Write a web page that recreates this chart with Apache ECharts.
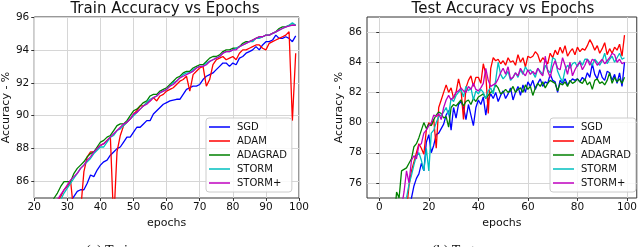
<!DOCTYPE html>
<html>
<head>
<meta charset="utf-8">
<script src="https://cdn.jsdelivr.net/npm/echarts@6/dist/echarts.min.js"></script>
<style>
html,body{margin:0;padding:0;background:#fff;}
#chart{width:640px;height:247px;}
</style>
</head>
<body>
<div id="chart"></div>
<script>
// ---------- DATA ----------
var seriesNames = ['SGD', 'ADAM', 'ADAGRAD', 'STORM', 'STORM+'];
var seriesColors = ['#0000ff', '#ff0000', '#008000', '#00bfbf', '#bf00bf'];

// Train accuracy, epochs 20..99
var trainFirstEpoch = 20;
var trainSGD = [81.5,81.9,82.3,82.6,83.0,83.3,83.6,83.9,84.2,84.4,84.6,84.8,85.1,85.4,85.5,85.5,85.9,86.4,86.3,86.7,
  87.0,87.2,87.3,87.6,87.8,88.0,88.1,88.4,88.7,88.7,89.0,89.3,89.3,89.5,89.7,89.7,90.1,90.3,90.5,90.7,
  90.8,90.9,90.95,91.0,91.0,91.3,91.6,91.7,91.8,91.8,91.9,92.2,92.4,92.5,92.6,92.8,93.0,93.2,93.2,93.0,
  93.2,93.1,93.5,93.6,93.8,93.9,94.0,94.2,94.0,94.3,94.5,94.5,94.6,94.9,94.7,94.7,94.8,94.7,94.5,94.85];
var trainADAM = [82.0,82.5,83.0,83.4,83.8,84.2,84.5,84.8,85.1,85.5,85.7,86.0,84.0,84.5,84.2,86.6,87.5,87.8,87.8,88.0,
  88.2,88.3,88.5,88.7,83.5,87.8,88.8,89.4,89.6,89.8,90.1,90.3,90.6,90.6,90.8,90.9,91.1,90.9,91.2,91.3,
  91.5,91.6,91.7,91.9,92.1,92.2,92.4,91.5,92.5,92.7,92.9,93.0,91.8,92.2,93.1,93.4,93.5,93.6,93.4,93.5,
  93.6,93.4,93.8,94.0,94.0,94.1,94.2,94.3,94.3,94.1,94.0,94.4,94.5,94.6,94.7,94.8,94.9,95.1,89.7,93.8];
var trainADAGRAD = [83.0,83.3,83.6,83.9,84.2,84.6,85.0,85.3,85.7,86.0,86.0,86.0,86.5,86.8,87.0,87.2,87.5,87.7,87.8,88.1,
  88.4,88.5,88.7,88.8,89.1,89.4,89.5,89.5,89.7,90.0,90.3,90.4,90.6,90.8,90.9,91.2,91.3,91.3,91.5,91.6,
  91.7,91.9,92.1,92.3,92.4,92.6,92.7,92.7,92.9,93.0,93.1,93.1,93.3,93.5,93.6,93.6,93.7,93.9,94.0,94.0,
  94.1,94.1,94.2,94.4,94.5,94.5,94.6,94.7,94.8,94.8,94.9,94.9,95.0,95.1,95.3,95.4,95.4,95.5,95.5,95.5];
var trainSTORM = [82.6,82.9,83.2,83.5,83.8,84.1,84.4,84.6,84.9,85.3,85.6,85.9,86.2,86.5,86.8,87.0,87.2,87.4,87.7,87.9,
  88.1,88.1,88.4,88.7,88.8,89.1,89.2,89.4,89.6,89.8,90.0,90.2,90.4,90.6,90.8,91.0,91.1,91.2,91.4,91.5,
  91.6,91.8,92.0,92.1,92.3,92.5,92.6,92.6,92.8,92.9,93.0,93.0,93.2,93.3,93.4,93.5,93.6,93.8,93.9,93.9,
  94.0,94.1,94.2,94.3,94.4,94.5,94.5,94.7,94.7,94.8,94.9,94.9,95.0,95.1,95.2,95.3,95.4,95.5,95.65,95.5];
var trainSTORMp = [82.8,83.1,83.4,83.7,84.0,84.3,84.6,84.9,85.2,85.5,85.8,86.1,86.3,86.5,86.8,87.0,87.3,87.5,87.8,88.0,
  88.2,88.3,88.5,88.7,88.9,89.1,89.3,89.5,89.6,89.8,90.1,90.2,90.4,90.6,90.7,90.9,91.1,91.2,91.4,91.5,
  91.6,91.8,91.9,92.1,92.3,92.4,92.5,92.6,92.7,92.9,93.0,93.0,93.1,93.3,93.4,93.5,93.6,93.8,93.9,93.9,
  94.0,94.0,94.2,94.3,94.4,94.5,94.6,94.7,94.8,94.8,94.9,94.9,95.0,95.1,95.2,95.3,95.4,95.45,95.5,95.5];

// Test accuracy, epochs 0..99
var testFirstEpoch = 0;
var testSGD = [45,55,60,64,66,68,69.5,70.5,71.5,72.3,73.0,73.8,74.4,75.0,75.8,76.3,76.6,77.3,76.8,78.7,
  79.2,78.0,78.5,79.2,79.3,79.6,79.9,80.5,80.8,79.5,81.0,80.3,81.2,81.4,81.0,80.2,81.2,80.5,79.8,81.0,
  81.5,81.2,81.7,80.5,81.5,81.9,81.6,82.0,81.4,81.8,82.1,81.6,81.9,82.3,81.5,82.0,82.4,81.8,82.5,82.0,
  82.7,82.4,82.8,82.2,82.6,82.9,82.4,82.7,82.6,83.2,82.8,82.7,82.0,82.8,82.6,82.9,82.5,82.7,82.9,82.8,
  82.9,82.7,83.0,82.8,83.3,83.0,83.9,83.2,82.9,83.5,83.0,82.8,83.4,83.3,82.8,83.2,82.6,83.3,82.4,84.0];
var testADAM = [40,52,58,62,65,67,68.5,70,71,72,73,74.2,75.8,76.8,77.4,78.0,78.6,78.3,77.9,79.5,
  80.0,79.8,80.2,78.3,81.0,81.5,82.0,82.5,82.0,82.3,81.6,82.0,82.9,82.2,80.2,82.3,82.8,83.1,82.4,83.0,
  83.0,82.6,83.9,83.2,80.6,83.6,84.3,84.1,84.2,83.9,84.1,83.8,84.3,84.0,84.1,83.8,84.5,84.0,84.3,83.7,
  84.4,84.3,84.4,84.7,84.5,84.0,84.3,84.1,83.9,84.6,84.3,84.8,84.5,85.0,84.6,85.1,84.4,84.7,84.9,84.5,
  85.0,84.7,84.9,84.8,85.1,85.5,85.2,84.8,85.1,84.6,84.9,85.3,84.5,84.9,84.6,85.0,84.8,85.2,84.4,85.8];
var testADAGRAD = [50,60,65,68,70,72,73.5,75.4,75.0,76.8,76.9,77.0,77.3,77.6,78.4,78.6,79.0,79.5,80.0,79.6,
  79.9,79.8,80.2,80.5,80.7,80.6,80.3,80.4,79.7,81.0,81.2,81.1,81.3,81.5,81.1,81.4,81.5,81.2,81.6,81.4,
  81.7,81.8,81.9,81.6,81.8,82.0,82.1,82.5,82.3,81.9,82.0,82.2,82.0,82.1,82.4,82.0,82.2,82.3,82.0,82.5,
  82.2,82.4,81.8,82.3,82.6,82.4,82.7,82.3,82.6,82.8,82.7,82.6,82.1,82.6,82.5,82.7,82.4,82.8,82.6,82.7,
  82.9,82.7,82.6,82.9,82.5,82.7,82.2,82.8,82.9,82.6,82.7,82.5,82.8,83.3,82.6,83.0,82.7,82.9,82.6,83.0];
var testSTORM = [42,54,59,63,66,68,70,71.5,72.5,73.5,74.2,75.0,75.9,76.5,77.2,77.8,78.0,77.5,76.8,78.3,
  76.8,79.3,79.5,80.0,80.4,80.5,80.7,81.0,80.5,81.6,81.4,81.8,82.0,82.2,81.7,82.4,82.1,82.3,81.5,82.1,
  81.9,82.2,82.0,81.6,82.1,82.3,81.9,82.8,84.0,83.2,82.9,83.1,83.4,82.8,83.0,83.3,83.0,83.5,83.2,83.7,
  83.4,83.5,83.3,83.0,83.6,83.4,83.2,83.8,83.5,83.3,84.3,84.2,83.4,83.0,82.7,83.5,83.8,83.6,83.9,84.0,
  83.7,84.1,83.8,84.2,84.2,84.0,83.8,84.2,84.0,83.8,84.1,84.6,83.9,84.2,84.4,84.0,84.3,84.6,84.2,84.3];
var testSTORMp = [44,56,61,65,68,70,71.5,72.5,73.5,74.4,75.4,76.8,76.0,77.5,77.8,77.6,78.5,78.6,79.3,79.5,
  79.8,80.0,80.5,80.4,80.6,80.2,81.0,81.5,81.8,81.5,81.7,82.0,82.1,82.3,82.1,82.0,82.4,82.2,82.6,82.2,
  82.1,82.3,82.6,83.6,82.8,82.4,82.5,82.6,82.9,83.3,83.6,83.2,83.7,82.9,83.0,83.3,83.1,83.6,83.3,83.1,
  83.5,83.2,83.4,83.2,83.6,83.3,83.1,84.4,83.4,83.0,83.7,84.1,83.6,83.5,84.3,83.8,83.2,84.0,83.1,83.5,
  83.8,84.0,83.5,83.8,84.2,83.8,84.2,84.1,83.8,84.0,84.2,83.9,84.1,84.3,84.6,84.5,84.0,84.2,83.9,84.0];

// Axis ticks
var trainXTicks = [20,30,40,50,60,70,80,90,100];
var trainYTicks = [86,88,90,92,94,96];
var testXTicks = [0,20,40,60,80,100];
var testYTicks = [76,78,80,82,84,86];

var trainSeries = [trainSGD, trainADAM, trainADAGRAD, trainSTORM, trainSTORMp];
var testSeries = [testSGD, testADAM, testADAGRAD, testSTORM, testSTORMp];

// ---------- CHART ----------
var FONT = 'DejaVu Sans';
var TXT = '#111';
var FRAME = '#333';
function pairs(arr, start) { return arr.map(function (v, i) { return [start + i, v]; }); }

function xAxisDef(gridIndex, min, max, ticks) {
  return {
    type: 'value', gridIndex: gridIndex, min: min, max: max,
    name: 'epochs', nameLocation: 'middle', nameGap: 16,
    nameTextStyle: { fontFamily: FONT, fontSize: 11, color: TXT },
    axisLine: { show: false },
    axisTick: { show: true, length: 3, lineStyle: { color: FRAME, width: 1 }, customValues: ticks },
    axisLabel: { fontFamily: FONT, fontSize: 10.5, color: TXT, margin: 4, customValues: ticks, showMinLabel: true, showMaxLabel: true },
    splitLine: { show: true, lineStyle: { color: '#d6d6d6', width: 1 }, customValues: ticks }
  };
}
function yAxisDef(gridIndex, min, max, ticks) {
  return {
    type: 'value', gridIndex: gridIndex, min: min, max: max,
    name: 'Accuracy - %', nameLocation: 'middle', nameGap: 20,
    nameTextStyle: { fontFamily: FONT, fontSize: 11, color: TXT },
    axisLine: { show: false },
    axisTick: { show: true, length: 3, lineStyle: { color: FRAME, width: 1 }, customValues: ticks },
    axisLabel: { fontFamily: FONT, fontSize: 10.5, color: TXT, margin: 5, customValues: ticks },
    splitLine: { show: true, lineStyle: { color: '#d6d6d6', width: 1 }, customValues: ticks }
  };
}
function legendDef(left) {
  return {
    data: seriesNames.map(function (n) { return { name: n, icon: 'rect' }; }),
    orient: 'vertical', left: left, top: 118,
    itemWidth: 21, itemHeight: 1.5, itemGap: 0,
    padding: [2, 5, 2, 3],
    backgroundColor: 'rgba(255,255,255,0.85)',
    borderColor: '#cccccc', borderWidth: 1, borderRadius: 3,
    textStyle: { fontFamily: FONT, fontSize: 10, color: TXT, lineHeight: 14, padding: [0, 0, 0, 2] },
    selectedMode: false
  };
}

var series = [];
trainSeries.forEach(function (arr, i) {
  series.push({
    name: seriesNames[i], type: 'line', xAxisIndex: 0, yAxisIndex: 0,
    data: pairs(arr, trainFirstEpoch), symbol: 'none', clip: true, animation: false,
    lineStyle: { color: seriesColors[i], width: 1.3 }, itemStyle: { color: seriesColors[i] }
  });
});
testSeries.forEach(function (arr, i) {
  series.push({
    name: seriesNames[i], type: 'line', xAxisIndex: 1, yAxisIndex: 1,
    data: pairs(arr, testFirstEpoch), symbol: 'none', clip: true, animation: false,
    lineStyle: { color: seriesColors[i], width: 1.3 }, itemStyle: { color: seriesColors[i] }
  });
});

var chart = echarts.init(document.getElementById('chart'), null, { renderer: 'canvas' });
chart.setOption({
  animation: false,
  backgroundColor: '#ffffff',
  title: [
    { text: 'Train Accuracy vs Epochs', left: 165, top: 2, textAlign: 'center', padding: 0,
      textStyle: { fontFamily: FONT, fontSize: 15, fontWeight: 'normal', color: TXT } },
    { text: 'Test Accuracy vs Epochs', left: 503, top: 2, textAlign: 'center', padding: 0,
      textStyle: { fontFamily: FONT, fontSize: 15, fontWeight: 'normal', color: TXT } }
  ],
  grid: [
    { left: 31, right: 341, top: 17, bottom: 49, show: true, borderColor: FRAME, borderWidth: 1, backgroundColor: 'transparent' },
    { left: 367, right: 1, top: 17, bottom: 49, show: true, borderColor: FRAME, borderWidth: 1, backgroundColor: 'transparent' }
  ],
  xAxis: [xAxisDef(0, 20, 100, trainXTicks), xAxisDef(1, -4.95, 103.95, testXTicks)],
  yAxis: [yAxisDef(0, 85, 96, trainYTicks), yAxisDef(1, 75, 87, testYTicks)],
  legend: [legendDef(206), legendDef(550)],
  graphic: [
    { type: 'text', left: 86, top: 244, style: { text: '(a) Train', font: '14px "Liberation Serif"', fill: '#111' } },
    { type: 'text', left: 432, top: 244, style: { text: '(b) Test', font: '14px "Liberation Serif"', fill: '#111' } }
  ],
  series: series
});
</script>
</body>
</html>
